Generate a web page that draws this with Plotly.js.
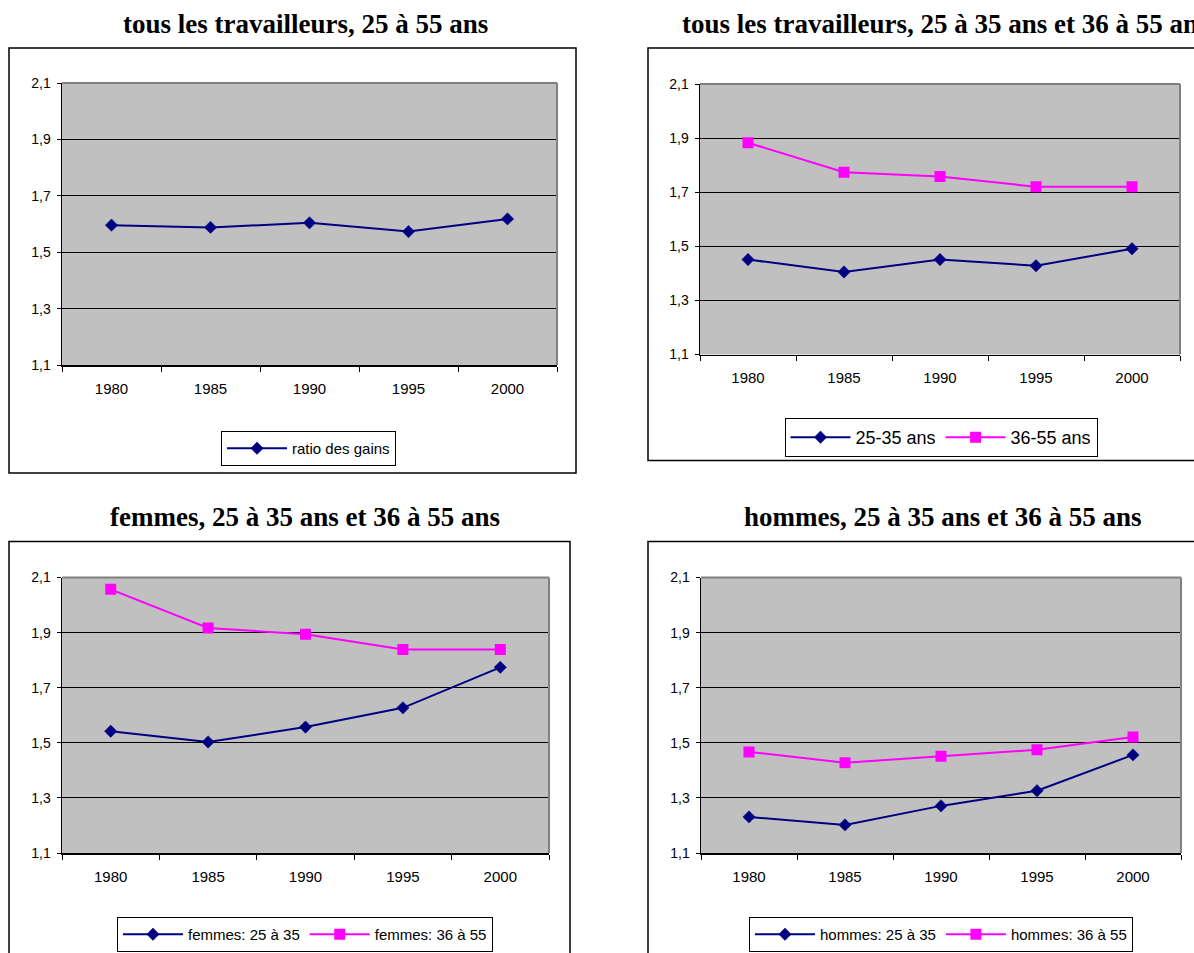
<!DOCTYPE html>
<html>
<head>
<meta charset="utf-8">
<script src="https://cdn.plot.ly/plotly-3.0.1.min.js"></script>
<style>html,body{margin:0;padding:0;background:#fff;}</style>
</head>
<body>
<div id="chart" style="width:1194px;height:953px;"></div>
<script>
// Earnings ratio by year, workers aged 25 to 55
const years = ['1980', '1985', '1990', '1995', '2000'];
const ratioAll = [1.596, 1.588, 1.604, 1.573, 1.618];
const all2535 = [1.451, 1.405, 1.451, 1.428, 1.491];
const all3655 = [1.883, 1.774, 1.758, 1.720, 1.720];
const fem2535 = [1.542, 1.503, 1.557, 1.627, 1.774];
const fem3655 = [2.057, 1.917, 1.894, 1.839, 1.839];
const hom2535 = [1.231, 1.202, 1.271, 1.326, 1.456];
const hom3655 = [1.467, 1.428, 1.451, 1.475, 1.521];

const panelTitles = [
  'tous les travailleurs, 25 à 55 ans',
  'tous les travailleurs, 25 à 35 ans et 36 à 55 ans',
  'femmes, 25 à 35 ans et 36 à 55 ans',
  'hommes, 25 à 35 ans et 36 à 55 ans'
];
const seriesNames = {
  ratio: 'ratio des gains',
  all2535: '25-35 ans', all3655: '36-55 ans',
  fem2535: 'femmes: 25 à 35', fem3655: 'femmes: 36 à 55',
  hom2535: 'hommes: 25 à 35', hom3655: 'hommes: 36 à 55'
};

const W = 1194, H = 953;
const px = v => v / W;
const py = v => 1 - v / H;

const NAVY = '#000080', PINK = '#FF00FF';
const SANS = 'Liberation Sans, Arial, sans-serif';
const SERIF = 'Liberation Serif, Times New Roman, serif';

function navyTrace(y, name, idx, legend) {
  return {
    x: years, y: y, name: name, type: 'scatter', mode: 'lines+markers',
    xaxis: idx === 1 ? 'x' : 'x' + idx, yaxis: idx === 1 ? 'y' : 'y' + idx,
    legend: legend,
    line: {color: NAVY, width: 2},
    marker: {symbol: 'diamond', size: 9.5, color: NAVY, line: {color: NAVY, width: 0.5}}
  };
}
function pinkTrace(y, name, idx, legend) {
  return {
    x: years, y: y, name: name, type: 'scatter', mode: 'lines+markers',
    xaxis: 'x' + idx, yaxis: 'y' + idx,
    legend: legend,
    line: {color: PINK, width: 2},
    marker: {symbol: 'square', size: 11, color: PINK, line: {color: PINK, width: 0}}
  };
}

const data = [
  navyTrace(ratioAll, seriesNames.ratio, 1, 'legend'),
  navyTrace(all2535, seriesNames.all2535, 2, 'legend2'),
  pinkTrace(all3655, seriesNames.all3655, 2, 'legend2'),
  navyTrace(fem2535, seriesNames.fem2535, 3, 'legend3'),
  pinkTrace(fem3655, seriesNames.fem3655, 3, 'legend3'),
  navyTrace(hom2535, seriesNames.hom2535, 4, 'legend4'),
  pinkTrace(hom3655, seriesNames.hom3655, 4, 'legend4')
];

// plot-area rectangles in page pixels: [left, right, top, bottom]
const areas = [
  [62, 557, 83, 365],
  [700, 1180, 84, 354.5],
  [62, 549, 577.5, 853],
  [701, 1181, 577.5, 853]
];

const layout = {
  width: W, height: H,
  margin: {l: 0, r: 0, t: 0, b: 0},
  paper_bgcolor: '#ffffff',
  plot_bgcolor: '#C0C0C0',
  separators: ', ',
  showlegend: true,
  font: {family: SANS, color: '#000'},
  shapes: [],
  annotations: []
};

areas.forEach((a, i) => {
  const n = i + 1;
  const xk = n === 1 ? 'xaxis' : 'xaxis' + n;
  const yk = n === 1 ? 'yaxis' : 'yaxis' + n;
  const xr = n === 1 ? 'x' : 'x' + n;
  const yr = n === 1 ? 'y' : 'y' + n;
  layout[xk] = {
    domain: [px(a[0]), px(a[1])], anchor: yr,
    type: 'category', range: [-0.5, 4.5],
    tickson: 'boundaries', ticks: 'outside', ticklen: 5, tickcolor: '#000', tickwidth: 1,
    showline: true, linecolor: '#000', linewidth: 1.5,
    showgrid: false, zeroline: false, fixedrange: true,
    tickfont: {family: SANS, size: 15, color: '#000'},
    ticklabelstandoff: 9
  };
  layout[yk] = {
    domain: [py(a[3]), py(a[2])], anchor: xr,
    range: [1.1, 2.1], tickmode: 'array', tickvals: [1.1, 1.3, 1.5, 1.7, 1.9, 2.1],
    tickformat: '.1f',
    ticks: 'outside', ticklen: 4, tickcolor: '#000', tickwidth: 1,
    showline: true, linecolor: '#000', linewidth: 1.5,
    showgrid: true, gridcolor: '#000', gridwidth: 1, zeroline: false, fixedrange: true,
    tickfont: {family: SANS, size: 14, color: '#000'},
    ticklabelstandoff: 3
  };
  // grey frame on the top and right of each plot area
  layout.shapes.push({type: 'line', xref: xr + ' domain', yref: yr + ' domain',
    x0: 0, x1: 1, y0: 1, y1: 1, line: {color: '#808080', width: 2}});
  layout.shapes.push({type: 'line', xref: xr + ' domain', yref: yr + ' domain',
    x0: 1, x1: 1, y0: 0, y1: 1, line: {color: '#808080', width: 2}});
});

// outer chart frames
[[9, 576, 48, 473], [648, 1210, 48, 460.5], [9, 570, 541.5, 970], [648, 1210, 541.5, 970]]
  .forEach(b => {
    layout.shapes.push({type: 'rect', xref: 'paper', yref: 'paper',
      x0: px(b[0]), x1: px(b[1]), y0: py(b[3]), y1: py(b[2]),
      line: {color: '#000', width: 1.5}, fillcolor: 'rgba(0,0,0,0)', layer: 'below'});
  });

// panel headings
const titlePos = [
  {x: 305, y: 24, anchor: 'center'},
  {x: 680, y: 24, anchor: 'left'},
  {x: 304.5, y: 517, anchor: 'center'},
  {x: 943, y: 517, anchor: 'center'}
];
titlePos.forEach((t, i) => {
  layout.annotations.push({
    text: '<b>' + panelTitles[i] + '</b>', xref: 'paper', yref: 'paper',
    x: px(t.x), y: py(t.y), xanchor: t.anchor, yanchor: 'middle', showarrow: false,
    font: {family: SERIF, size: 27, color: '#000'}
  });
});

function legendBox(cx, top, size, iw) {
  return {
    x: px(cx), y: py(top), xanchor: 'center', yanchor: 'top',
    orientation: 'h', bgcolor: '#fff', bordercolor: '#000', borderwidth: 1,
    font: {family: SANS, size: size, color: '#000'}, itemwidth: iw,
    traceorder: 'normal'
  };
}
layout.legend = legendBox(308.5, 431, 15, 60);
layout.legend2 = legendBox(941, 418, 18, 60);
layout.legend3 = legendBox(305, 917, 15, 60);
layout.legend4 = legendBox(941, 917, 15, 60);

Plotly.newPlot('chart', data, layout, {staticPlot: true, displayModeBar: false});
</script>
</body>
</html>
